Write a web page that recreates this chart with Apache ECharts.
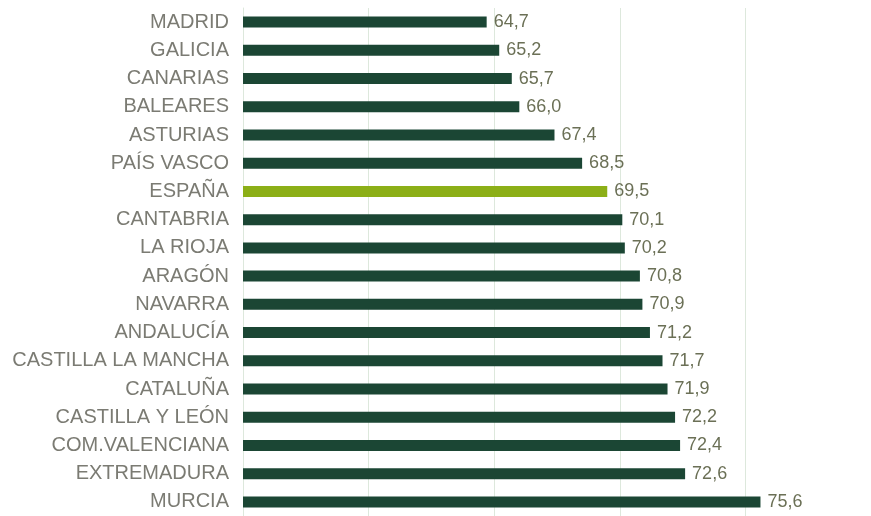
<!DOCTYPE html>
<html>
<head>
<meta charset="utf-8">
<script src="https://cdn.jsdelivr.net/npm/echarts@6/dist/echarts.min.js"></script>
<style>
  html, body { margin: 0; padding: 0; background: #fff; }
  #chart { width: 871px; height: 516px; }
</style>
</head>
<body>
<div id="chart"></div>
<script>
const regions = [
  "MADRID", "GALICIA", "CANARIAS", "BALEARES", "ASTURIAS", "PAÍS VASCO",
  "ESPAÑA", "CANTABRIA", "LA RIOJA", "ARAGÓN", "NAVARRA", "ANDALUCÍA",
  "CASTILLA LA MANCHA", "CATALUÑA", "CASTILLA Y LEÓN", "COM.VALENCIANA",
  "EXTREMADURA", "MURCIA"
];
const values = [
  64.7, 65.2, 65.7, 66.0, 67.4, 68.5,
  69.5, 70.1, 70.2, 70.8, 70.9, 71.2,
  71.7, 71.9, 72.2, 72.4, 72.6, 75.6
];
const highlight = "ESPAÑA";

const chart = echarts.init(document.getElementById("chart"));

chart.setOption({
  animation: false,
  grid: { left: 243, width: 632, top: 8, height: 508, containLabel: false },
  xAxis: {
    type: "value",
    min: 55,
    max: 80,
    interval: 5,
    axisLabel: { show: false },
    axisLine: { show: false },
    axisTick: { show: false },
    splitLine: { show: true, lineStyle: { color: "#dde8dc", width: 1 } },
  },
  yAxis: {
    type: "category",
    inverse: true,
    data: regions,
    axisLine: { show: true, lineStyle: { color: "#dde8dc" } },
    axisTick: { show: false },
    axisLabel: {
      color: "#7b7b73",
      fontFamily: "Liberation Sans, Arial, sans-serif",
      fontSize: 20,
      margin: 14,
    },
  },
  series: [
    {
      type: "bar",
      barWidth: 11,
      data: values.map((v, i) => ({
        value: v,
        itemStyle: { color: regions[i] === highlight ? "#8caf17" : "#1b4634" },
      })),
      label: {
        show: true,
        position: "right",
        distance: 7,
        color: "#6b7056",
        fontFamily: "Liberation Sans, Arial, sans-serif",
        fontSize: 18,
        formatter: (p) => p.value.toFixed(1).replace(".", ","),
      },
    },
  ],
});
</script>
</body>
</html>
